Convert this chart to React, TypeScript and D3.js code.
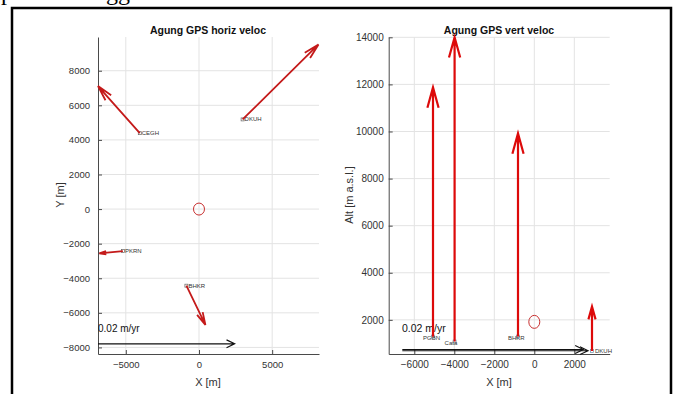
import React, { useEffect, useRef } from "react";
import * as d3 from "d3";

// horizontal velocities (plan view): station positions and arrow tips, in m
const horizStations = ["CEGH", "DKUH", "PKRN", "BHKR"];
const horizX0 = [-4045, 2980, -5200, -860];
const horizY0 = [4390, 5185, -2430, -4430];
const horizX1 = [-6900, 8165, -6810, 440];
const horizY1 = [7110, 9520, -2560, -6700];

// vertical velocities (section view): station x, altitude and arrow tip
const vertStations = ["PGBN", "Cata", "BHKR", "DKUH"];
const vertX = [-5065, -3985, -815, 2885];
const vertAlt = [1290, 1080, 1290, 680];
const vertTip = [11870, 14000, 9915, 2566];

// scale arrows "0.02 m/yr"
const horizScale = { x0: -6900, x1: 2435, y: -7790 };
const vertScale = [
  { x0: -6600, x1: 2450, y: 740 },
  { x0: -6600, x1: 2690, y: 690 },
];

// vent marker
const horizVent = [0, 0];
const vertVent = [0, 1915];

const horizXTicks = [-5000, 0, 5000];
const horizYTicks = [-8000, -6000, -4000, -2000, 0, 2000, 4000, 6000, 8000];
const vertXTicks = [-6000, -4000, -2000, 0, 2000];
const vertYTicks = [2000, 4000, 6000, 8000, 10000, 12000, 14000];

const FONT = "Arial, 'Liberation Sans', sans-serif";

function arrowPath(x0, y0, x1, y1, headMax, angle = 0.26) {
  const dx = x1 - x0;
  const dy = y1 - y0;
  const len = Math.hypot(dx, dy);
  const h = Math.min(headMax, 0.3 * len);
  const th = Math.atan2(y0 - y1, x0 - x1);
  const b1 = [x1 + h * Math.cos(th + angle), y1 + h * Math.sin(th + angle)];
  const b2 = [x1 + h * Math.cos(th - angle), y1 + h * Math.sin(th - angle)];
  return `M${x0},${y0}L${x1},${y1}M${b1[0]},${b1[1]}L${x1},${y1}L${b2[0]},${b2[1]}`;
}

function drawFrame(g, x, y, xTicks, yTicks, xPad, yPad, fs) {
  const [xl, xr] = x.range();
  const [yb, yt] = y.range();

  // grid
  g.append("g")
    .attr("stroke", "#e3e3e3")
    .attr("stroke-width", 1)
    .selectAll()
    .data(xTicks)
    .join("line")
    .attr("x1", (d) => x(d))
    .attr("x2", (d) => x(d))
    .attr("y1", yt)
    .attr("y2", yb);
  g.append("g")
    .attr("stroke", "#e3e3e3")
    .attr("stroke-width", 1)
    .selectAll()
    .data(yTicks)
    .join("line")
    .attr("x1", xl)
    .attr("x2", xr)
    .attr("y1", (d) => y(d))
    .attr("y2", (d) => y(d));

  // axes with inward ticks
  g.append("g")
    .attr("transform", `translate(0,${yb})`)
    .call(d3.axisBottom(x).tickValues(xTicks).tickSizeInner(-4).tickSizeOuter(0).tickPadding(xPad).tickFormat(d3.format("d")))
    .call((a) => a.selectAll("path,line").attr("stroke", "#4a4a4a"))
    .call((a) => a.selectAll("text").attr("fill", "#333").attr("font-size", fs).attr("font-family", FONT));
  g.append("g")
    .attr("transform", `translate(${xl},0)`)
    .call(d3.axisLeft(y).tickValues(yTicks).tickSizeInner(-4).tickSizeOuter(0).tickPadding(yPad).tickFormat(d3.format("d")))
    .call((a) => a.selectAll("path,line").attr("stroke", "#4a4a4a"))
    .call((a) => a.selectAll("text").attr("fill", "#333").attr("font-size", fs).attr("font-family", FONT));
}

export default function App() {
  const svgRef = useRef(null);

  useEffect(() => {
    const svg = d3.select(svgRef.current);
    svg.selectAll("*").remove();

    svg.append("rect").attr("width", 678).attr("height", 394).attr("fill", "#fff");

    // cropped caption above the figure
    svg.append("text").attr("x", 1).attr("y", 0).attr("font-family", "'Liberation Serif', serif").attr("font-size", 24).text("p");
    svg.append("text").attr("x", 106).attr("y", 0).attr("font-family", "'Liberation Serif', serif").attr("font-size", 24).text("gg");

    // outer frame
    svg.append("path")
      .attr("d", "M12,394V8H671V394")
      .attr("fill", "none")
      .attr("stroke", "#000")
      .attr("stroke-width", 2.5);

    // ---------- left panel: horizontal velocities ----------
    const xH = d3.scaleLinear().domain([-6900, 8200]).range([98, 319]);
    const yH = d3.scaleLinear().domain([-8380, 9950]).range([354, 37]);
    const gL = svg.append("g");
    drawFrame(gL, xH, yH, horizXTicks, horizYTicks, 7, 8, 9.5);

    gL.append("text")
      .attr("x", 208).attr("y", 34)
      .attr("text-anchor", "middle")
      .attr("font-family", FONT).attr("font-size", 10.5).attr("font-weight", "bold")
      .attr("fill", "#111")
      .text("Agung GPS horiz veloc");
    gL.append("text")
      .attr("x", 208).attr("y", 386)
      .attr("text-anchor", "middle")
      .attr("font-family", FONT).attr("font-size", 11).attr("fill", "#333")
      .text("X [m]");
    gL.append("text")
      .attr("transform", "translate(64,195) rotate(-90)")
      .attr("text-anchor", "middle")
      .attr("font-family", FONT).attr("font-size", 11).attr("fill", "#333")
      .text("Y [m]");

    gL.append("ellipse")
      .attr("cx", xH(horizVent[0])).attr("cy", yH(horizVent[1]))
      .attr("rx", 5.5).attr("ry", 6)
      .attr("fill", "none").attr("stroke", "#c83030").attr("stroke-width", 1);

    gL.append("g")
      .selectAll()
      .data(horizStations)
      .join("rect")
      .attr("x", (d, i) => xH(horizX0[i]) - 1.5)
      .attr("y", (d, i) => yH(horizY0[i]) - 1.5)
      .attr("width", 3).attr("height", 3)
      .attr("fill", "none").attr("stroke", "#666").attr("stroke-width", 0.7);
    gL.append("g")
      .selectAll()
      .data(horizStations)
      .join("text")
      .attr("x", (d, i) => xH(horizX0[i]) + 2)
      .attr("y", (d, i) => yH(horizY0[i]) + 2)
      .attr("font-family", FONT).attr("font-size", 6).attr("fill", "#333")
      .text((d) => d);

    gL.append("g")
      .selectAll()
      .data(horizStations)
      .join("path")
      .attr("d", (d, i) => arrowPath(xH(horizX0[i]), yH(horizY0[i]), xH(horizX1[i]), yH(horizY1[i]), 16, 0.24))
      .attr("fill", "none").attr("stroke", "#c41a1a").attr("stroke-width", 1.8);

    gL.append("path")
      .attr("d", arrowPath(xH(horizScale.x0), yH(horizScale.y), xH(horizScale.x1), yH(horizScale.y), 9, 0.45))
      .attr("fill", "none").attr("stroke", "#111").attr("stroke-width", 1.2);
    gL.append("text")
      .attr("x", 98).attr("y", 332)
      .attr("font-family", FONT).attr("font-size", 10).attr("fill", "#111")
      .text("0.02 m/yr");

    // ---------- right panel: vertical velocities ----------
    const xV = d3.scaleLinear().domain([-7280, 3770]).range([388.7, 609.7]);
    const yV = d3.scaleLinear().domain([550, 14000]).range([354, 37.3]);
    const gR = svg.append("g");
    drawFrame(gR, xV, yV, vertXTicks, vertYTicks, 7, 5, 10);

    gR.append("text")
      .attr("x", 499).attr("y", 34)
      .attr("text-anchor", "middle")
      .attr("font-family", FONT).attr("font-size", 10.5).attr("font-weight", "bold")
      .attr("fill", "#111")
      .text("Agung GPS vert veloc");
    gR.append("text")
      .attr("x", 499).attr("y", 386)
      .attr("text-anchor", "middle")
      .attr("font-family", FONT).attr("font-size", 11).attr("fill", "#333")
      .text("X [m]");
    gR.append("text")
      .attr("transform", "translate(353,195) rotate(-90)")
      .attr("text-anchor", "middle")
      .attr("font-family", FONT).attr("font-size", 11).attr("fill", "#333")
      .text("Alt [m a.s.l.]");

    gR.append("ellipse")
      .attr("cx", xV(vertVent[0])).attr("cy", yV(vertVent[1]))
      .attr("rx", 5.5).attr("ry", 6.5)
      .attr("fill", "none").attr("stroke", "#c83030").attr("stroke-width", 1);

    vertScale.forEach((s) => {
      gR.append("path")
        .attr("d", arrowPath(xV(s.x0), yV(s.y), xV(s.x1), yV(s.y), 9, 0.45))
        .attr("fill", "none").attr("stroke", "#111").attr("stroke-width", 1.1);
    });
    gR.append("text")
      .attr("x", 402).attr("y", 332)
      .attr("font-family", FONT).attr("font-size", 10.5).attr("fill", "#111")
      .text("0.02 m/yr");

    gR.append("g")
      .selectAll()
      .data(vertStations)
      .join("rect")
      .attr("x", (d, i) => xV(vertX[i]) - 1.5)
      .attr("y", (d, i) => yV(vertAlt[i]) - 1.5)
      .attr("width", 3).attr("height", 3)
      .attr("fill", "none").attr("stroke", "#6a8fa8").attr("stroke-width", 0.7);
    gR.append("g")
      .selectAll()
      .data(vertStations)
      .join("text")
      .attr("x", (d, i) => xV(vertX[i]) + (i === 3 ? 3 : -10))
      .attr("y", (d, i) => yV(vertAlt[i]) + (i === 3 ? 2 : 3))
      .attr("font-family", FONT).attr("font-size", 6).attr("fill", "#333")
      .text((d) => d);

    gR.append("g")
      .selectAll()
      .data(vertStations)
      .join("path")
      .attr("d", (d, i) => arrowPath(xV(vertX[i]), yV(vertAlt[i]), xV(vertX[i]), yV(vertTip[i]), 21, 0.27))
      .attr("fill", "none").attr("stroke", "#dd0a0a").attr("stroke-width", 2.2);
  }, []);

  return (
    <svg
      ref={svgRef}
      width={678}
      height={394}
      style={{ position: "absolute", left: 0, top: 0, display: "block" }}
    />
  );
}
